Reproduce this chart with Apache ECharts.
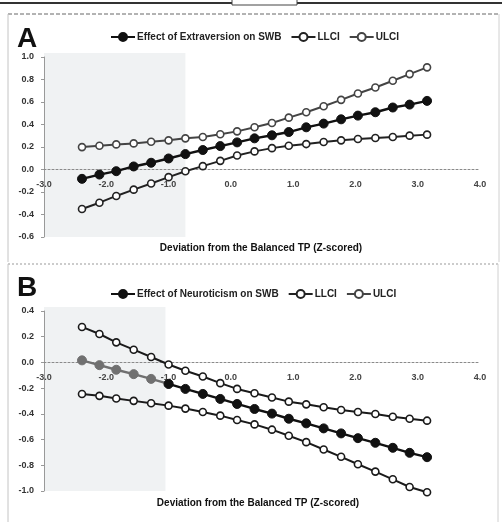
<!DOCTYPE html>
<html>
<head>
<meta charset="utf-8">
<script src="https://cdn.jsdelivr.net/npm/echarts@6/dist/echarts.min.js"></script>
<style>html,body{margin:0;padding:0;background:#fff}#c{width:502px;height:522px}</style>
</head>
<body>
<div id="c"></div>
<script>
// Deviation from the Balanced TP (Z-scored)
const xValues = [-2.39, -2.11, -1.84, -1.56, -1.28, -1.00, -0.73, -0.45, -0.17, 0.10, 0.38, 0.66, 0.93, 1.21, 1.49, 1.77, 2.04, 2.32, 2.60, 2.87, 3.15];

// Panel A: Extraversion
const effectA = [-0.083, -0.045, -0.015, 0.027, 0.060, 0.098, 0.137, 0.173, 0.208, 0.241, 0.277, 0.304, 0.333, 0.375, 0.408, 0.446, 0.479, 0.509, 0.551, 0.577, 0.610];
const llciA = [-0.351, -0.295, -0.235, -0.179, -0.125, -0.068, -0.015, 0.030, 0.077, 0.125, 0.161, 0.190, 0.211, 0.226, 0.244, 0.259, 0.271, 0.280, 0.289, 0.301, 0.310];
const ulciA = [0.199, 0.211, 0.223, 0.232, 0.247, 0.259, 0.277, 0.289, 0.313, 0.339, 0.375, 0.414, 0.461, 0.509, 0.562, 0.619, 0.676, 0.729, 0.789, 0.848, 0.908];

// Panel B: Neuroticism
const effectB = [0.016, -0.021, -0.057, -0.091, -0.128, -0.167, -0.206, -0.245, -0.284, -0.323, -0.362, -0.398, -0.438, -0.474, -0.513, -0.552, -0.589, -0.625, -0.664, -0.703, -0.737];
const llciB = [-0.245, -0.260, -0.281, -0.299, -0.318, -0.336, -0.359, -0.385, -0.414, -0.448, -0.482, -0.523, -0.570, -0.620, -0.677, -0.734, -0.792, -0.849, -0.909, -0.969, -1.010];
const ulciB = [0.276, 0.221, 0.156, 0.099, 0.042, -0.016, -0.065, -0.109, -0.161, -0.206, -0.240, -0.273, -0.305, -0.326, -0.349, -0.370, -0.385, -0.401, -0.422, -0.438, -0.453];

// Shaded regions: [xFrom, xTo]
const shadeA = [-3, -0.73];
const shadeB = [-3, -1.05];

const yRangeA = [-0.6, 1.0];
const yRangeB = [-1.0, 0.4];

const namesA = ['Effect of Extraversion on SWB', 'LLCI', 'ULCI'];
const namesB = ['Effect of Neuroticism on SWB', 'LLCI', 'ULCI'];
const xTitle = 'Deviation from the Balanced TP (Z-scored)';

const pts = v => xValues.map((x, i) => [x, v[i]]);
const FONT = '"Liberation Sans", Arial, sans-serif';
const GRID_H = 180;
const GRAY_COUNT = 5; // first points of panel B effect drawn in gray (inside shading)

function xAxisCfg(gi, yr) {
  return {
    type: 'value', gridIndex: gi, min: -3, max: 4, interval: 1,
    offset: -GRID_H * (0 - yr[0]) / (yr[1] - yr[0]),
    axisLine: { onZero: false, lineStyle: { color: '#8a8a8a', width: 1, type: [2, 2] } },
    axisTick: { show: false },
    splitLine: { show: false },
    axisLabel: { formatter: v => v.toFixed(1), fontSize: 9, fontWeight: 'bold', color: '#444', margin: 11, fontFamily: FONT }
  };
}
function yAxisCfg(gi, yr) {
  return {
    type: 'value', gridIndex: gi, min: yr[0], max: yr[1], interval: 0.2,
    axisLine: { show: true, onZero: false, lineStyle: { color: '#999', width: 1 } },
    axisTick: { show: true, length: 3, lineStyle: { color: '#999' } },
    splitLine: { show: false },
    axisLabel: { formatter: v => v.toFixed(1), fontSize: 9, fontWeight: 'bold', color: '#333', margin: 10, fontFamily: FONT }
  };
}
function shadeSeries(gi, sh, yr) {
  return {
    type: 'custom', coordinateSystem: 'cartesian2d', xAxisIndex: gi, yAxisIndex: gi, silent: true, z: 0,
    data: [[sh[0], sh[1], yr[0], yr[1]]],
    renderItem: function (params, api) {
      const p1 = api.coord([api.value(0), api.value(3)]);
      const p2 = api.coord([api.value(1), api.value(2)]);
      return { type: 'rect', shape: { x: p1[0], y: p1[1] - 4, width: p2[0] - p1[0], height: p2[1] - p1[1] + 4 }, style: { fill: '#f0f2f3' } };
    }
  };
}
function effectSeries(name, data, gi) {
  return {
    name, type: 'line', xAxisIndex: gi, yAxisIndex: gi, data: data, clip: false,
    symbol: 'circle', symbolSize: 9, z: 4,
    itemStyle: { color: '#111', borderColor: '#111', borderWidth: 1 },
    lineStyle: { color: '#111', width: 2.4 }
  };
}
function ciSeries(name, data, gi, col) {
  return {
    name, type: 'line', xAxisIndex: gi, yAxisIndex: gi, data: pts(data), clip: false,
    symbol: 'circle', symbolSize: 7, z: 2,
    itemStyle: { color: '#fff', borderColor: col, borderWidth: 1.6 },
    lineStyle: { color: col, width: 2 }
  };
}
function legendCfg(names, top) {
  return {
    data: names, left: 105, top: top, itemWidth: 24, itemHeight: 10, itemGap: 9,
    textStyle: { fontSize: 10, fontWeight: 'bold', color: '#222', fontFamily: FONT, padding: [0, 0, 0, -3] },
    selectedMode: false
  };
}

const ptsB = pts(effectB);
const grayB = effectSeries(namesB[0], ptsB.slice(0, GRAY_COUNT + 1), 1);
grayB.z = 3;
grayB.itemStyle = { color: '#707070', borderColor: '#707070', borderWidth: 1 };
grayB.lineStyle = { color: '#707070', width: 2.4 };

const chart = echarts.init(document.getElementById('c'), null, { renderer: 'canvas' });
chart.setOption({
  animation: false,
  backgroundColor: '#fff',
  grid: [
    { left: 44, top: 57, width: 436, height: GRID_H },
    { left: 44, top: 311, width: 436, height: GRID_H }
  ],
  xAxis: [xAxisCfg(0, yRangeA), xAxisCfg(1, yRangeB)],
  yAxis: [yAxisCfg(0, yRangeA), yAxisCfg(1, yRangeB)],
  legend: [legendCfg(namesA, 27), legendCfg(namesB, 284)],
  series: [
    shadeSeries(0, shadeA, yRangeA),
    shadeSeries(1, shadeB, yRangeB),
    effectSeries(namesA[0], pts(effectA), 0),
    ciSeries('LLCI', llciA, 0, '#222'),
    ciSeries('ULCI', ulciA, 0, '#444'),
    effectSeries(namesB[0], ptsB.slice(GRAY_COUNT), 1),
    grayB,
    ciSeries('LLCI', llciB, 1, '#1a1a1a'),
    ciSeries('ULCI', ulciB, 1, '#1a1a1a')
  ],
  graphic: [
    { type: 'line', shape: { x1: 0, y1: 3, x2: 502, y2: 3 }, style: { stroke: '#333', lineWidth: 2 } },
    { type: 'rect', shape: { x: 232, y: -2, width: 65, height: 7 }, style: { fill: '#fff', stroke: '#444', lineWidth: 1 } },
    { type: 'line', shape: { x1: 8, y1: 14, x2: 499, y2: 14 }, style: { stroke: '#666', lineWidth: 1, lineDash: [4, 2] } },
    { type: 'line', shape: { x1: 8, y1: 14, x2: 8, y2: 262 }, style: { stroke: '#c4c4c4', lineWidth: 1 } },
    { type: 'line', shape: { x1: 499, y1: 14, x2: 499, y2: 262 }, style: { stroke: '#d0d0d0', lineWidth: 1 } },
    { type: 'line', shape: { x1: 8, y1: 264, x2: 499, y2: 264 }, style: { stroke: '#999', lineWidth: 1, lineDash: [2, 2] } },
    { type: 'line', shape: { x1: 8, y1: 264, x2: 8, y2: 522 }, style: { stroke: '#c4c4c4', lineWidth: 1 } },
    { type: 'line', shape: { x1: 498, y1: 264, x2: 498, y2: 522 }, style: { stroke: '#d0d0d0', lineWidth: 1 } },
    { type: 'text', x: 17, y: 39, style: { text: 'A', font: 'bold 28px ' + FONT, fill: '#111', textVerticalAlign: 'middle' } },
    { type: 'text', x: 17, y: 288, style: { text: 'B', font: 'bold 28px ' + FONT, fill: '#111', textVerticalAlign: 'middle' } },
    { type: 'text', x: 261, y: 248, style: { text: xTitle, font: 'bold 10px ' + FONT, fill: '#111', textAlign: 'center', textVerticalAlign: 'middle' } },
    { type: 'text', x: 258, y: 503, style: { text: xTitle, font: 'bold 10px ' + FONT, fill: '#111', textAlign: 'center', textVerticalAlign: 'middle' } }
  ]
});
</script>
</body>
</html>
